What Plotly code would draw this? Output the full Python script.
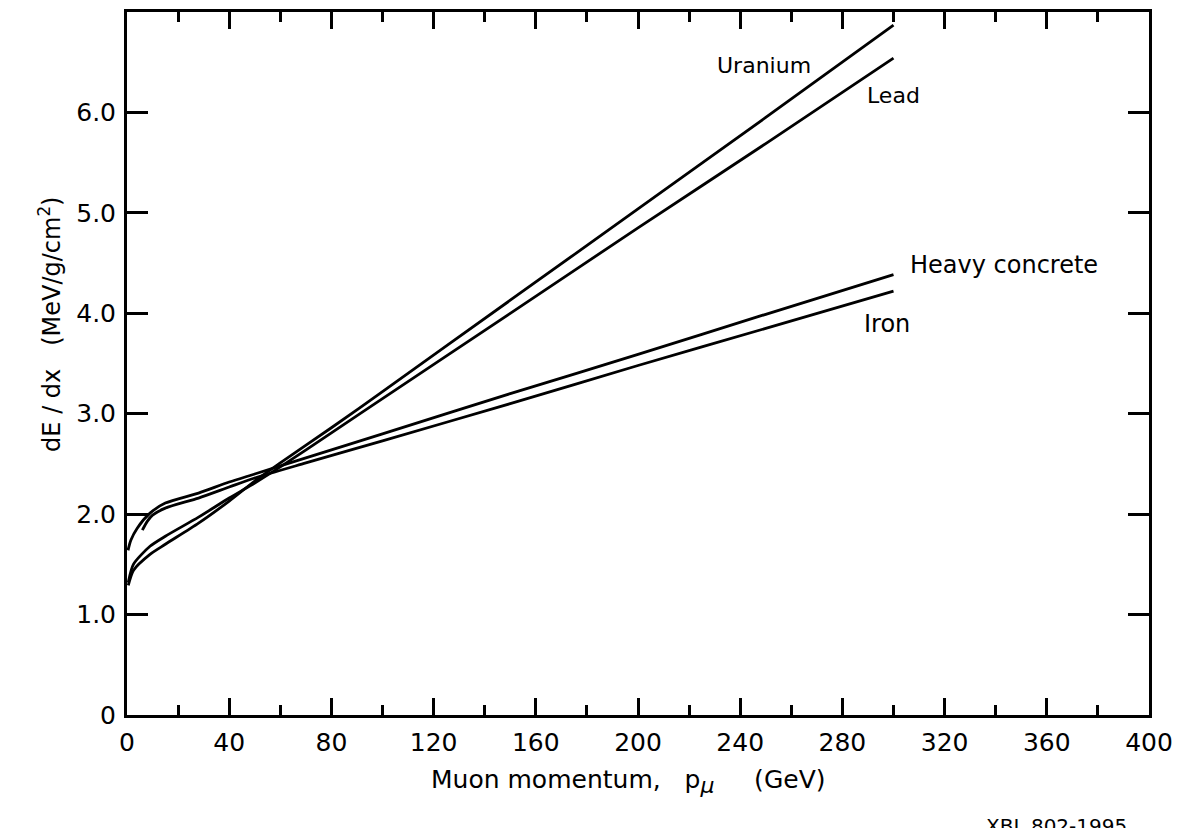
import plotly.graph_objects as go

# ---- data ----
p_uranium = [0.5, 2.5, 9, 15, 28, 40, 50, 60, 80, 100, 150, 200, 250, 300]
dedx_uranium = [1.29, 1.44, 1.60, 1.70, 1.91, 2.13, 2.33, 2.51, 2.86, 3.22, 4.13, 5.04, 5.95, 6.87]

p_lead = [0.5, 2.5, 9, 15, 28, 40, 50, 60, 80, 100, 150, 200, 250, 300]
dedx_lead = [1.32, 1.50, 1.68, 1.78, 1.97, 2.16, 2.31, 2.47, 2.81, 3.15, 4.00, 4.85, 5.69, 6.54]

p_concrete = [0.4, 1.5, 4, 9, 15, 28, 40, 50, 70, 100, 150, 200, 250, 300]
dedx_concrete = [1.64, 1.74, 1.86, 2.01, 2.11, 2.21, 2.32, 2.40, 2.56, 2.80, 3.20, 3.59, 3.99, 4.385]

p_iron = [6, 8, 10, 15, 28, 40, 50, 70, 100, 150, 200, 250, 300]
dedx_iron = [1.84, 1.93, 1.99, 2.06, 2.16, 2.27, 2.36, 2.51, 2.73, 3.10, 3.48, 3.85, 4.22]

x_tickvals = [0, 40, 80, 120, 160, 200, 240, 280, 320, 360, 400]
x_ticktext = ["0", "40", "80", "120", "160", "200", "240", "280", "320", "360", "400"]
y_tickvals = [0, 1, 2, 3, 4, 5, 6]
y_ticktext = ["0", "1.0", "2.0", "3.0", "4.0", "5.0", "6.0"]

FONT = "DejaVu Sans"

fig = go.Figure()
for xs, ys in [(p_uranium, dedx_uranium), (p_lead, dedx_lead),
               (p_concrete, dedx_concrete), (p_iron, dedx_iron)]:
    fig.add_trace(go.Scatter(x=xs, y=ys, mode="lines",
                             line=dict(color="black", width=2.8, shape="spline", smoothing=0.7),
                             showlegend=False, hoverinfo="skip"))

axis_common = dict(showline=True, linecolor="black", linewidth=3, mirror="allticks",
                   ticks="inside", tickcolor="black", tickwidth=2.5,
                   showgrid=False, zeroline=False,
                   tickfont=dict(family=FONT, size=25, color="black"))

fig.update_xaxes(range=[0, 400], tickmode="array", tickvals=x_tickvals, ticktext=x_ticktext,
                 ticklen=17, ticklabelstandoff=3,
                 minor=dict(ticks="inside", dtick=20, tick0=0, ticklen=10, tickwidth=2.5,
                            tickcolor="black", showgrid=False),
                 **axis_common)
fig.update_yaxes(range=[0, 7], tickmode="array", tickvals=y_tickvals, ticktext=y_ticktext,
                 ticklen=21, ticklabelstandoff=3, **axis_common)

ann_font = dict(family=FONT, size=22, color="black")
annotations = [
    dict(x=268.5, y=6.47, xref="x", yref="y", text="Uranium", xanchor="right", yanchor="middle",
         showarrow=False, font=ann_font),
    dict(x=288.8, y=6.17, xref="x", yref="y", text="Lead", xanchor="left", yanchor="middle",
         showarrow=False, font=ann_font),
    dict(x=305.5, y=4.48, xref="x", yref="y", text="Heavy concrete", xanchor="left", yanchor="middle",
         showarrow=False, font=dict(family=FONT, size=24, color="black")),
    dict(x=297.5, y=3.89, xref="x", yref="y", text="Iron", xanchor="center", yanchor="middle",
         showarrow=False, font=dict(family=FONT, size=24, color="black")),
    # axis titles
    dict(x=-0.0753, y=0.555, xref="paper", yref="paper", textangle=-90,
         text="dE / dx\u00a0\u00a0\u00a0(MeV/g/cm<sup>2</sup>)", xanchor="center", yanchor="middle",
         showarrow=False, font=dict(family=FONT, size=24, color="black")),
    dict(x=(628 - 127) / 1022, y=(715 - 782) / 706, xref="paper", yref="paper",
         text=("Muon momentum,\u00a0\u00a0\u00a0p<sub><span style='font-size:22px'><i>\u03bc</i></span></sub>"
               "\u00a0\u00a0\u00a0\u00a0\u00a0(GeV)"),
         xanchor="center", yanchor="middle",
         showarrow=False, font=dict(family=FONT, size=25, color="black")),
    dict(x=(984 - 127) / 1022, y=(715 - 826) / 706, xref="paper", yref="paper",
         text="XBL 802-1995", xanchor="left", yanchor="middle",
         showarrow=False, font=dict(family=FONT, size=20, color="black")),
]

fig.update_layout(width=1189, height=828, margin=dict(l=127, r=40, t=9, b=113),
                  paper_bgcolor="white", plot_bgcolor="white",
                  annotations=annotations, showlegend=False)

fig.write_html("out.html")
